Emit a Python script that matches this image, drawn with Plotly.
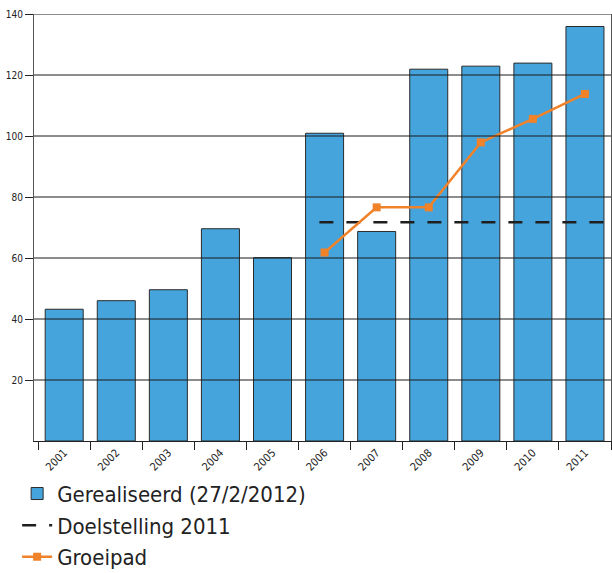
import plotly.graph_objects as go

# Realised counts per year
years = ["2001", "2002", "2003", "2004", "2005", "2006",
         "2007", "2008", "2009", "2010", "2011"]
realised = [43.2, 46.0, 49.6, 69.6, 60.1, 100.9, 68.7, 121.9, 122.9, 123.9, 135.9]

# Growth path towards the 2011 target
path_years = ["2006", "2007", "2008", "2009", "2010", "2011"]
path_values = [61.8, 76.6, 76.6, 97.9, 105.6, 113.8]

# 2011 target level
target_value = 71.7
target_from = "2006"

y_ticks = [20, 40, 60, 80, 100, 120, 140]

BLUE = "#45A4DC"
ORANGE = "#F0822A"
FONT = "Liberation Sans Narrow, DejaVu Sans Condensed, Arial Narrow, sans-serif"

x_lo = -0.58
x_hi = len(years) - 0.5

fig = go.Figure()

fig.add_trace(go.Bar(
    x=years, y=realised, name="Gerealiseerd (27/2/2012)",
    marker=dict(color=BLUE, line=dict(color="#2b2b2b", width=1)),
    xaxis="x", yaxis="y",
))

# Target line on a hidden numeric overlay so it can run to the plot edge
i0 = years.index(target_from)
fig.add_trace(go.Scatter(
    x=[i0 - 0.1, x_hi], y=[target_value, target_value],
    mode="lines", name="Doelstelling 2011",
    line=dict(color="#1e1e1e", width=2.5, dash="14px,13px"),
    xaxis="x2", yaxis="y",
))

fig.add_trace(go.Scatter(
    x=[years.index(y) for y in path_years], y=path_values,
    mode="lines+markers", name="Groeipad",
    line=dict(color=ORANGE, width=2.5),
    marker=dict(symbol="square", size=8, color=ORANGE),
    xaxis="x2", yaxis="y",
))

# Horizontal grid drawn over the bars
for v in y_ticks:
    fig.add_shape(type="line", xref="paper", x0=0, x1=1, yref="y", y0=v, y1=v,
                  line=dict(color="#1a1a1a", width=1), layer="above")

fig.update_layout(
    width=612, height=573,
    margin=dict(l=34, r=1, t=14, b=132, autoexpand=False),
    paper_bgcolor="white", plot_bgcolor="white",
    font=dict(family=FONT, color="#222"),
    bargap=0.27,
    showlegend=True,
    legend=dict(
        xref="container", yref="container", x=0.028, y=0.175,
        xanchor="left", yanchor="top",
        font=dict(size=22, family=FONT, color="#222"),
        traceorder="normal",
        bgcolor="rgba(0,0,0,0)",
    ),
    xaxis=dict(
        type="category", range=[x_lo, x_hi],
        showgrid=False, showline=True, linecolor="#222", linewidth=1,
        ticks="outside", tickson="boundaries", ticklen=8, tickcolor="#222",
        tickangle=-45, tickfont=dict(size=11, color="#222"),
    ),
    xaxis2=dict(
        overlaying="x", range=[x_lo, x_hi], visible=False,
    ),
    yaxis=dict(
        range=[0, 140], tickvals=y_ticks,
        showgrid=False, showline=True, linecolor="#555", linewidth=1.2, mirror=True,
        ticks="outside", ticklen=8, tickcolor="#222",
        tickfont=dict(size=10, color="#222"),
        zeroline=False,
    ),
)

fig.write_html("out.html")
